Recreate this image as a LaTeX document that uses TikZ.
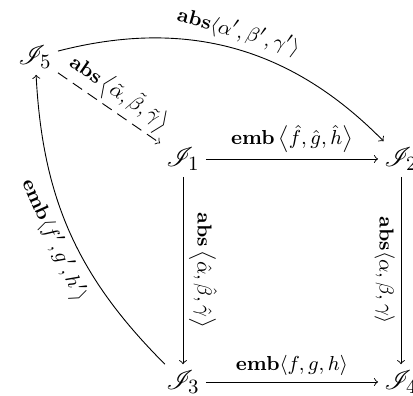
\documentclass[tikz,border=0pt]{standalone}
\usepackage{mathrsfs}
\begin{document}
\begin{tikzpicture}[x=0.4444pt,y=-0.4444pt,
  obj/.style={inner sep=2.6pt,font=\fontsize{13}{16}\selectfont},
  cdarrow/.style={->,thin},
  cddash/.style={->,thin,dash pattern=on 5pt off 3pt},
  lbl/.style={auto,sloped,inner sep=2.5pt,font=\fontsize{9.5}{11}\selectfont}]
\useasboundingbox (0,0) rectangle (413,396);
\node[obj] (I5) at (35,57) {$\mathscr{I}_5$};
\node[obj] (I1) at (183,159) {$\mathscr{I}_1$};
\node[obj] (I2) at (401,159) {$\mathscr{I}_2$};
\node[obj] (I3) at (183,382) {$\mathscr{I}_3$};
\node[obj] (I4) at (401,382) {$\mathscr{I}_4$};
\draw[cdarrow] (I1) -- node[lbl]{$\mathbf{emb}\left\langle\hat f,\hat g,\hat h\right\rangle$} (I2);
\draw[cdarrow] (I3) -- node[lbl]{$\mathbf{emb}\langle f,g,h\rangle$} (I4);
\draw[cdarrow] (I1) -- node[lbl]{$\mathbf{abs}\left\langle\hat\alpha,\hat\beta,\hat\gamma\right\rangle$} (I3);
\draw[cdarrow] (I2) -- node[lbl,swap]{$\mathbf{abs}\langle \alpha,\beta,\gamma\rangle$} (I4);
\draw[cddash] (I5) -- node[lbl,pos=0.5,inner sep=1.5pt]{$\mathbf{abs}\left\langle\tilde\alpha,\tilde\beta,\tilde\gamma\right\rangle$} (I1);
\draw[cdarrow] (I5) to[bend left=30] node[lbl]{$\mathbf{abs}\langle \alpha',\beta',\gamma'\rangle$} (I2);
\draw[cdarrow] (I3) to[bend left=21] node[lbl,swap]{$\mathbf{emb}\langle f',g',h'\rangle$} (I5);
\end{tikzpicture}
\end{document}
